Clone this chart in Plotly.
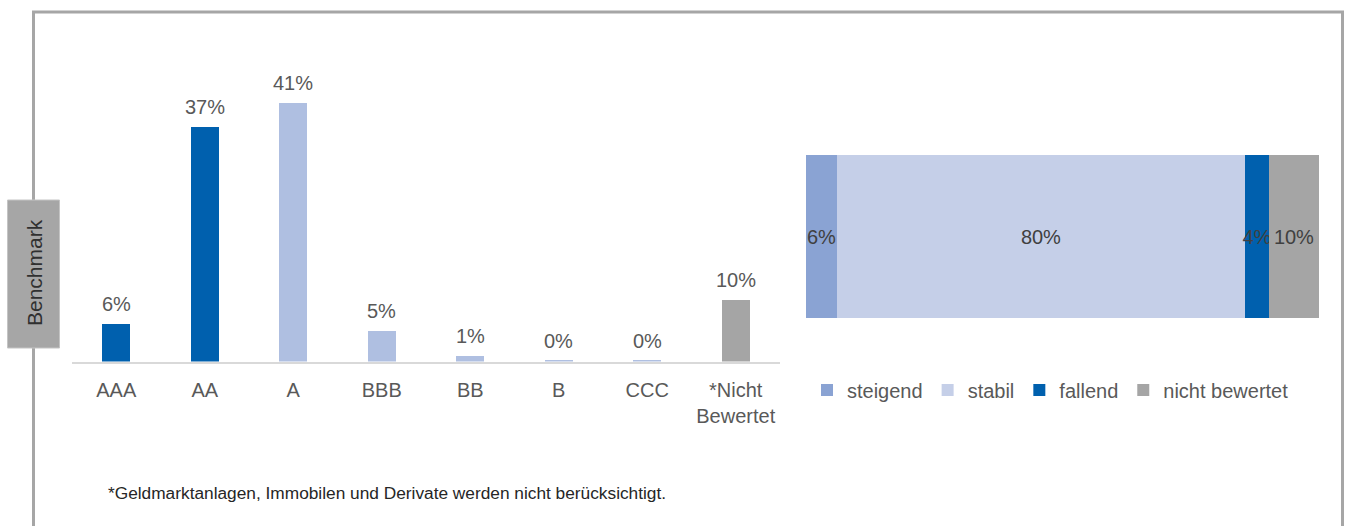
import plotly.graph_objects as go

W, H = 1349, 526

# ---- data ----
ratings = ["AAA", "AA", "A", "BBB", "BB", "B", "CCC", "*Nicht<br>Bewertet"]
rating_values = [5.9, 37.2, 41.0, 4.8, 0.8, 0.1, 0.1, 9.7]
rating_labels = ["6%", "37%", "41%", "5%", "1%", "0%", "0%", "10%"]
rating_colors = ["#0060ae", "#0060ae", "#afbfe1", "#afbfe1", "#afbfe1",
                 "#afbfe1", "#afbfe1", "#a5a5a5"]

outlook_names = ["steigend", "stabil", "fallend", "nicht bewertet"]
outlook_values = [6, 80, 4.6, 9.8]
outlook_labels = ["6%", "80%", "4%", "10%"]
outlook_colors = ["#8aa3d3", "#c5cfe8", "#0060ae", "#a5a5a5"]

footnote = "*Geldmarktanlagen, Immobilen und Derivate werden nicht berücksichtigt."
side_label = "Benchmark"

FONT = "Liberation Sans, Arial, Helvetica, sans-serif"
FS = 20


def px(x):
    return x / W


def py(y):
    return 1 - y / H


fig = go.Figure()

fig.add_trace(go.Bar(
    x=ratings, y=rating_values,
    marker=dict(color=rating_colors, line=dict(width=0)),
    cliponaxis=False, width=0.32, showlegend=False,
    xaxis="x", yaxis="y", hoverinfo="skip",
))

for name, val, lab, col in zip(outlook_names, outlook_values, outlook_labels, outlook_colors):
    fig.add_trace(go.Bar(
        x=[val], y=[0], orientation="h", name=name, text=[lab],
        textposition="inside", insidetextanchor="middle", textangle=0,
        constraintext="none",
        textfont=dict(size=FS, color="#404040", family=FONT),
        marker=dict(color=col, line=dict(width=0)),
        width=1, xaxis="x2", yaxis="y2", hoverinfo="skip", cliponaxis=False,
    ))

shapes = [
    # frame
    dict(type="line", xref="paper", yref="paper", x0=px(33.5), x1=px(33.5), y0=py(12), y1=py(530),
         line=dict(color="#a6a6a6", width=3)),
    dict(type="line", xref="paper", yref="paper", x0=px(32), x1=px(1344), y0=py(12), y1=py(12),
         line=dict(color="#a6a6a6", width=3)),
    dict(type="line", xref="paper", yref="paper", x0=px(1342.5), x1=px(1342.5), y0=py(12), y1=py(530),
         line=dict(color="#a6a6a6", width=3)),
    # benchmark box
    dict(type="rect", xref="paper", yref="paper", x0=px(7.5), x1=px(59.5), y0=py(348), y1=py(200),
         fillcolor="#a6a6a6", line=dict(color="#c4c4c4", width=1)),
]

annotations = [
    dict(text=side_label, xref="paper", yref="paper", x=px(34), y=py(273), textangle=-90,
         showarrow=False, font=dict(size=21, color="#303030", family=FONT),
         xanchor="center", yanchor="middle"),
    dict(text=footnote, xref="paper", yref="paper", x=px(106), y=py(493),
         showarrow=False, font=dict(size=17.3, color="#262626", family=FONT),
         xanchor="left", yanchor="middle"),
]

# value labels above the rating bars, positioned through the data axes
for cat, val, lab in zip(ratings, rating_values, rating_labels):
    annotations.append(dict(
        x=cat, y=val, xref="x", yref="y", text=lab, showarrow=False,
        yanchor="bottom", xanchor="center", yshift=7,
        font=dict(size=FS, color="#595959", family=FONT),
    ))

fig.update_layout(
    width=W, height=H,
    margin=dict(l=0, r=0, t=0, b=0),
    paper_bgcolor="white", plot_bgcolor="white",
    barmode="stack", bargap=0,
    font=dict(family=FONT, color="#595959", size=FS),
    xaxis=dict(domain=[px(72), px(780)], showgrid=False, zeroline=False,
               showline=True, linecolor="#d9d9d9", linewidth=2,
               tickfont=dict(size=FS, color="#595959", family=FONT), ticks="",
               ticklabelstandoff=9, fixedrange=True),
    yaxis=dict(domain=[py(361.5), py(48)], range=[0, 49.7], visible=False, fixedrange=True),
    xaxis2=dict(domain=[px(806), px(1319)], range=[0, 100.4], visible=False, anchor="y2"),
    yaxis2=dict(domain=[py(318), py(155)], range=[-0.5, 0.5], visible=False, anchor="x2"),
    legend=dict(orientation="h", x=px(807), y=py(390), xanchor="left", yanchor="middle",
                font=dict(size=FS, color="#595959", family=FONT), itemwidth=30,
                traceorder="normal", bgcolor="rgba(0,0,0,0)"),
    shapes=shapes, annotations=annotations,
)

fig.write_html("out.html")
